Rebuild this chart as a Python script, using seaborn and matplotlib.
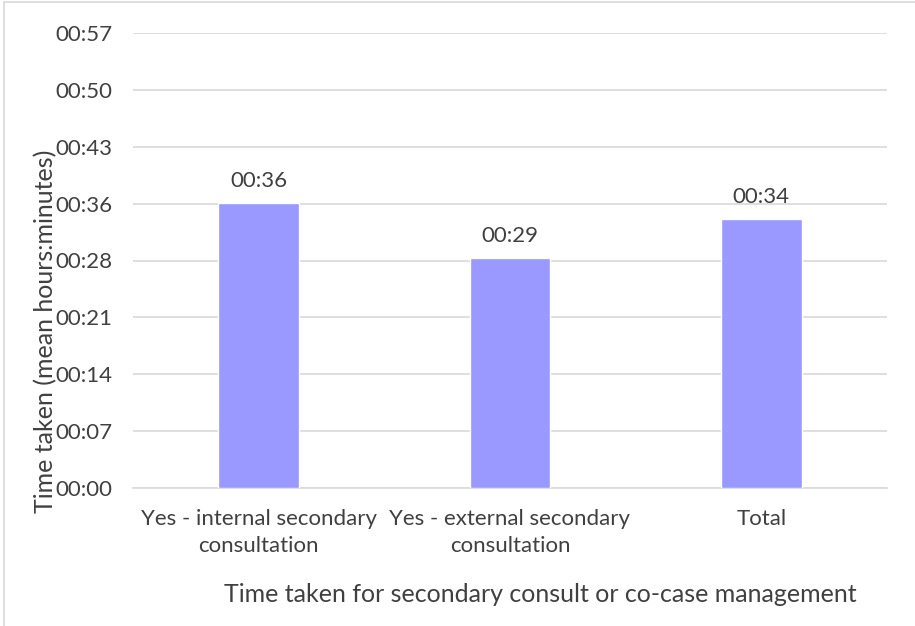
import numpy as np
import pandas as pd
import seaborn as sns
import matplotlib.pyplot as plt
from matplotlib.lines import Line2D

# mean time per group, in minutes
categories = ["Yes - internal secondary\nconsultation",
              "Yes - external secondary\nconsultation",
              "Total"]
minutes = [36.07, 29.1, 34.05]

# excel time axis: major unit 0.005 day = 7.2 minutes
y_ticks = [0, 7.2, 14.4, 21.6, 28.8, 36.0, 43.2, 50.4, 57.6]

df = pd.DataFrame({"group": categories, "minutes": minutes})

sns.set_theme(style="white")
plt.rcParams["font.family"] = ["Lato", "DejaVu Sans"]
text_col = "#404040"
grid_col = "#d9d9d9"

fig = plt.figure(figsize=(9.15, 6.26), dpi=100)
ax = fig.add_axes([133 / 915, 1 - 488 / 626, 754 / 915, 455 / 626])

sns.barplot(data=df, x="group", y="minutes", color="#9999FF",
            saturation=1, width=0.32, ax=ax, zorder=3)

ax.set_ylim(0, 57.6)
ax.set_xlim(-0.5, 2.5)
ax.set_yticks(y_ticks)
ax.set_yticklabels([f"00:{int(t):02d}" for t in y_ticks])
ax.yaxis.grid(True, color=grid_col, linewidth=1.2, zorder=0)
ax.set_axisbelow(True)

for s in ["top", "right", "left"]:
    ax.spines[s].set_visible(False)
ax.spines["bottom"].set_color(grid_col)
ax.spines["bottom"].set_linewidth(1.2)

ax.tick_params(axis="both", length=0, labelsize=16, colors=text_col)
ax.tick_params(axis="y", pad=15)
ax.tick_params(axis="x", pad=15)
for lbl in ax.get_xticklabels():
    lbl.set_linespacing(1.45)

ax.bar_label(ax.containers[0],
             labels=[f"00:{round(m):02d}" for m in minutes],
             padding=9, fontsize=16, color=text_col)

ax.set_ylabel("Time taken (mean hours:minutes)", fontsize=18, color=text_col)
ax.yaxis.set_label_coords(-0.101, 0.345)
ax.set_xlabel("Time taken for secondary consult or co-case management",
              fontsize=18, color=text_col)
ax.xaxis.set_label_coords(0.54, -0.208)

# chart area border (left and top visible)
fig.add_artist(Line2D([4 / 915, 4 / 915], [0, 1 - 2 / 626],
                      color=grid_col, linewidth=1.2, transform=fig.transFigure))
fig.add_artist(Line2D([4 / 915, 1], [1 - 2 / 626, 1 - 2 / 626],
                      color=grid_col, linewidth=1.2, transform=fig.transFigure))

fig.savefig("out.png", dpi=100)
